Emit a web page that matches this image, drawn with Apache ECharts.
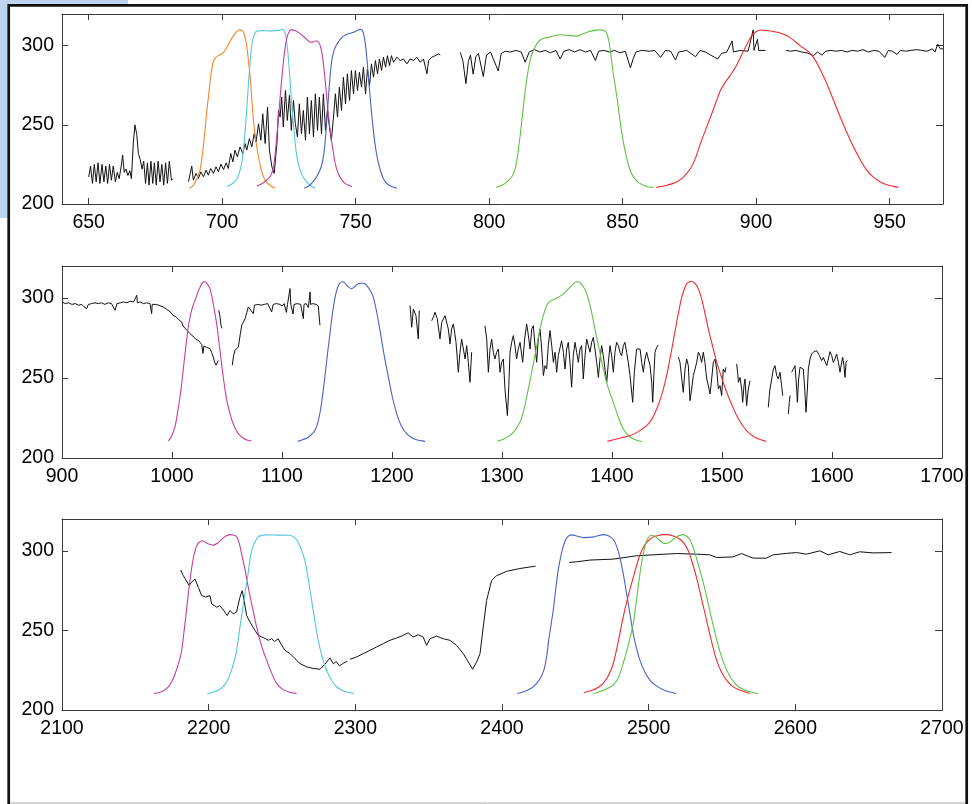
<!DOCTYPE html>
<html>
<head>
<meta charset="utf-8">
<script src="https://cdn.jsdelivr.net/npm/echarts@6/dist/echarts.min.js"></script>
<style>
html,body{margin:0;padding:0;background:#fff;}
#chart{width:972px;height:804px;}
</style>
</head>
<body>
<div id="chart"></div>
<script>
// ---------- tick labels ----------
const p1XTicks = [650, 700, 750, 800, 850, 900, 950];
const p2XTicks = [900, 1000, 1100, 1200, 1300, 1400, 1500, 1600, 1700];
const p3XTicks = [2100, 2200, 2300, 2400, 2500, 2600, 2700];
const yTicks = [200, 250, 300];

// ---------- panel 1 (640-970) ----------
const p1Black1 = [[650,217],[650.7,224],[651.4,213],[652.1,225],[652.8,214],[653.5,226],[654.2,213],[655,225],[655.7,214],[656.4,224],[657.1,213],[657.8,225],[658.5,215],[659.2,224],[660,214],[660.7,220],[661.4,216],[662.2,224],[662.7,231],[663.3,220],[664,222],[664.7,218],[665.4,221],[666,216],[666.7,238],[667.3,250],[668,244],[668.6,232],[669.3,228],[670,222],[670.6,227],[671.3,213],[672,226],[672.6,212],[673.3,227],[674,213],[674.6,226],[675.3,212],[676,227],[676.7,214],[677.4,225],[678.1,212],[678.8,226],[679.5,213],[680.2,227],[681,215],[681.6,216]];
const p1Black2 = [[687.4,214.1],[688.6,223.9],[689.2,215.1],[690.2,219.3],[691.1,216.2],[692.0,220.3],[693.0,217.2],[694.0,221.4],[694.8,218.2],[695.7,222.4],[696.7,219.3],[697.7,223.5],[698.6,220.3],[699.5,225.2],[700.5,221.8],[701.5,226.0],[702.3,222.4],[703.2,231.9],[704.0,226.6],[704.8,234.0],[705.7,229.8],[706.7,236.1],[707.7,231.9],[708.6,238.2],[709.2,234.0],[710.2,241.3],[711.1,236.1],[712.0,244.4],[712.7,239.2],[713.6,250.7],[714.5,240.3],[715.2,257.0],[716.1,238.2],[717.0,261.2],[717.7,234.0],[718.6,223.5],[719.5,219.3],[720.5,238.2],[721.1,259.1],[721.7,254.9],[722.3,267.5],[722.9,248.6],[723.7,271.7],[724.4,252.8],[725.2,268.6],[725.9,246.5],[726.7,265.4],[727.4,250.7],[728.2,242.4],[728.9,263.3],[729.7,244.4],[730.4,259.1],[731.2,240.3],[731.9,267.5],[732.7,244.4],[733.4,265.4],[734.2,242.4],[734.9,269.6],[735.7,246.5],[736.4,267.5],[737.2,244.4],[737.9,269.6],[738.7,246.5],[739.4,259.1],[740.2,248.6],[740.9,240.3],[741.7,254.9],[742.4,269.6],[743.2,254.9],[743.9,273.8],[744.7,259.1],[745.4,280.1],[746.2,263.3],[746.9,282.2],[747.7,265.4],[748.4,284.3],[749.2,269.6],[749.9,284.3],[750.7,271.7],[751.4,283.2],[752.2,273.8],[752.9,286.4],[753.7,269.6],[754.4,285.3],[755.2,274.8],[755.9,288.5],[756.7,280.1],[757.4,290.6],[758.2,282.2],[758.9,291.6],[759.7,284.3],[760.4,292.7],[761.2,286.4],[761.9,293.7],[762.7,287.4],[763.4,293.7],[764.2,289.5],[765.4,292.7],[766.7,290.6],[767.9,291.6],[769.2,288.5],[770.4,291.6],[771.7,290.6],[772.9,292.7],[774.2,289.5],[775.4,291.6],[776.7,282.2],[777.3,290.6],[778.5,292.7],[779.8,293.7],[781.0,294.8],[781.7,294]];
const p1Black3 = [[789.2,295.8],[790.2,290],[791.3,276],[792.2,290],[793,294],[794,282],[795,293],[796,295],[797.8,280.5],[799,294],[800.5,296],[801.5,292],[803.4,284],[804.5,295],[806,296.5],[808,296],[810,297],[812,296],[813.5,289.5],[815,296],[817,297.5],[819,296],[821,297],[823,295.5],[825,297],[826.6,291.6],[828,296.5],[830,297.5],[832,296],[834,297.5],[836,296],[838,297],[839.8,290.6],[841,296.5],[843,297],[845,296],[847,297],[849,295.5],[851,296.5],[852.9,286],[854,292],[855,296],[857,297],[860,296.5],[862,297],[864.2,292.6],[866,297],[868,296.5],[869.8,291],[871,296],[874,297],[877.3,293],[879,297],[881,296],[883,294],[885.6,291.6],[887,295],[889,296],[891,303],[891.5,296],[894,297],[897,296.5],[898.9,310],[899.2,297],[900.5,304],[901,297],[903.5,297]];
const p1Black4 = [[911.3,297],[913,296.5],[915,297],[917,296],[919,295.5],[921.5,293.7],[923,296],[924.7,294],[926,296.5],[928,297],[930,296.5],[932,297],[934,296],[936,297],[938,296.5],[940,297.5],[942,296],[944,297],[946,296.5],[948.2,292.6],[949.5,297],[951,296.5],[952.8,294.5],[954,297],[956,296.5],[958,297],[960,297.5],[962,297],[964,296.5],[966,298],[967,296],[968,301],[969,298],[970,298]];
const p1Orange = [[687.7,209.9],[689,211.5],[690.5,216],[691.7,221.4],[692.5,230],[693.3,242],[694.2,258],[695,270],[695.8,282],[696.7,290],[697.6,292.5],[698.6,293.7],[699.6,294.6],[700.5,295.8],[701.8,299],[703,303],[704.3,306.5],[705.5,309],[706.7,310],[707.6,309.4],[708.2,307.4],[708.8,303.5],[709.4,297],[710,288],[710.5,280],[711.1,266],[711.7,252.8],[712.6,240],[713.6,229.7],[714.5,222.5],[715.5,217],[716.5,214],[717.8,212],[719.8,209.9]];
const p1Cyan = [[701.7,211],[703.5,212.5],[705.5,216],[706.8,222],[707.6,229],[708.3,240],[709,255],[709.6,270],[710.2,284],[710.8,296],[711.5,304],[712.3,308],[713.2,309.3],[715,309.5],[717.5,309.3],[720,309.5],[721.7,309.8],[722.5,310.3],[723.2,309.4],[723.8,306],[724.4,299],[725,288],[725.6,274],[726.2,260],[726.8,248],[727.5,236],[728.3,227],[729.2,221.4],[730.4,216.8],[731.7,214],[733.2,211.5],[734.8,209.9]];
const p1Magenta = [[713,211.3],[715,213],[717.3,216],[718.5,219],[719.4,225],[720.1,236],[720.8,249],[721.5,263],[722.2,277],[723,290.6],[723.7,300],[724.4,306],[725.2,309.3],[726,310],[727.5,309.4],[729.2,307.6],[731,305],[733,302.2],[734.2,302.4],[735.2,303.1],[736.2,302],[736.9,299],[737.5,294],[738.1,286],[738.7,276],[739.3,265],[740,253],[740.7,243],[741.5,234],[742.3,226],[743.3,220],[744.5,216],[746,213],[748.6,211]];
const p1Blue = [[730.7,209.9],[732.5,211.5],[734.2,214.5],[735.8,218.5],[737.2,224],[738.1,232],[738.8,244],[739.4,258],[740,272],[740.6,284],[741.2,292],[742,297.5],[743,301],[744.2,304],[745.4,306],[747.3,307.5],[749.2,308.5],[750.6,309.6],[751.7,310.3],[752.5,309.5],[753.1,306.5],[753.7,300],[754.3,290],[754.9,278],[755.5,266],[756.1,255],[756.8,244],[757.5,235],[758.3,227.5],[759.3,221],[760.4,216],[761.8,212.8],[763.5,211],[765.5,209.9]];
const p1Green = [[802.7,210.5],[805,212],[807,214.5],[808.5,217.2],[809.7,222],[810.7,231],[811.7,244.5],[812.6,258],[813.4,270],[814.2,280],[815,288],[815.8,293.5],[816.6,297],[817.8,301],[819.2,303.6],[821,304.8],[823,305.6],[826.6,306.9],[829.5,306.5],[832.9,306],[834.8,307.2],[836.6,308.5],[839,309.5],[841.6,310],[843,309.6],[843.9,308.4],[844.7,304],[845.4,297],[846.1,287],[846.9,278],[847.9,267],[849,253],[850.4,238],[851.8,227],[853,220.5],[854.1,217],[856,213.5],[859.1,211],[861.5,210.5]];
const p1Red = [[862.6,210.5],[866,211.5],[870.4,214],[873,217.5],[875.4,222.4],[877.3,229],[879.1,238],[881,246.5],[882.9,254.9],[884.8,263.5],[886.6,271.7],[888.5,277],[890.4,281.5],[892.3,286.5],[894.1,292.6],[896,299],[897.9,305.2],[899.8,308.6],[901.6,309.9],[904,309.6],[906.6,309],[909,308],[911.6,306.3],[914,303.5],[916.5,300],[919,297],[921.5,292.6],[924,285],[926.5,275.9],[929,265.5],[931.5,254.9],[934,245],[936.5,236],[939,228],[941.4,221.4],[943.9,217],[946.4,214],[949.5,211.8],[953.3,210.5]];

// ---------- panel 2 (900-1700) ----------
const p2Black1 = [[900,297.5],[903,296.5],[906,297],[909,296],[912,296.5],[915,295.5],[918,296],[920,294.5],[922.4,293.4],[924,296],[927,296.5],[930,297],[933,296.5],[936,297],[939,296],[942,297],[945,296.5],[948.2,292.3],[950,296.5],[953,297],[956,297.5],[959,297],[962,298],[965,297.5],[968,301.7],[968.5,297],[971,297.5],[974,296.5],[977,297],[980,296.5],[981.5,290.2],[982,296],[985,296],[988,295.5],[992,294.4],[995,293],[998,291.5],[1001,289.2],[1004,288],[1006,286.5],[1008.8,285],[1010,282.5],[1011.8,281.5],[1014,279.5],[1016,278],[1018,276.7],[1020,275.5],[1022,274],[1024,273.5],[1025.5,272.5],[1027,271],[1028.2,265.4],[1029,270],[1030,269.4],[1032,269],[1034.5,268.4],[1036,266],[1037.5,263.1],[1039,259.5],[1040,258],[1041,258.5],[1042.1,261]];
const p2Black2 = [[1042.5,292.3],[1043.5,289],[1044.5,283],[1045.5,281]];
const p2Black3 = [[1054.8,258],[1056,264],[1057.3,267.3],[1058.5,268],[1060.3,269.4],[1062,277],[1063.4,283],[1065,285],[1066.4,287.1],[1068,291],[1069.4,294.4],[1071,295],[1073.9,290.2],[1075,295.5],[1078,296],[1081,295.5],[1084,296],[1087,296.5],[1090.6,291.3],[1092,296],[1095,296.5],[1098,296],[1100,295],[1102,296.5],[1104,291],[1105,296],[1107.3,305.9],[1108,296],[1110,290],[1111,296],[1114,296.5],[1117,296],[1119.4,287.1],[1120,296],[1122,296.5],[1124,294],[1125.5,303.8],[1126,296],[1128,296.5],[1131,296],[1133,295],[1134.5,283]];
const p2Black4 = [[1216.4,295.2],[1217.9,281.7],[1219.4,293.1],[1221.8,289.0],[1223.9,274.4],[1224.8,292.1]];
const p2Black5 = [[1236.1,285.8],[1238.2,289.0],[1239.1,291.1],[1241.2,286.9],[1243.6,274.4],[1245.2,284.8],[1246.7,286.9],[1248.2,289.0],[1249.7,287.9],[1251.2,280.6],[1252.7,271.3],[1254.2,280.6],[1255.8,283.8],[1258.2,272.3],[1260.3,253.6],[1261.8,266.1],[1263.3,274.4],[1264.9,268.1],[1266.4,261.9],[1267.9,270.2],[1269.4,259.8],[1270.9,247.3],[1272.4,266.1]];
const p2Black6 = [[1284.5,282.7],[1286.1,274.4],[1287.6,253.6],[1289.1,268.1],[1290.6,274.4],[1292.1,266.1],[1293.6,261.9],[1295.1,266.1],[1296.7,268.1],[1298.2,253.6],[1299.7,259.8],[1301.2,261.9],[1302.7,243.1],[1304.9,226.5],[1306.1,243.1],[1307.3,266.1],[1308.8,272.3],[1310.3,276.5],[1311.8,270.2],[1313.3,261.9],[1314.8,268.1],[1316.4,272.3],[1318.8,259.8],[1320.6,274.4],[1322.4,283.8],[1324.0,276.5],[1325.5,268.1],[1327.0,280.6],[1328.5,282.7],[1330.0,270.2],[1331.5,259.8],[1333.0,274.4],[1334.6,280.6],[1336.1,268.1],[1337.6,251.5],[1339.1,257.7],[1340.6,255.6],[1342.1,270.2],[1343.6,279.6],[1345.2,270.2],[1346.7,259.8],[1348.2,266.1],[1349.7,253.6],[1351.2,264.0],[1354.2,273.3],[1355.8,266.1],[1357.3,255.6],[1358.8,268.1],[1360.3,272.3],[1361.8,259.8],[1363.3,244.2],[1364.8,264.0],[1366.4,272.3],[1367.9,266.1],[1369.4,259.8],[1370.9,268.1],[1372.4,270.2],[1373.9,249.4],[1375.5,264.0],[1377.0,274.4],[1378.5,270.2],[1380.0,266.1],[1381.5,272.3],[1383.0,275.4],[1384.5,268.1],[1386.1,259.8],[1387.6,250.4],[1389.1,261.9],[1390.6,270.2],[1392.1,264.0],[1393.6,255.6],[1395.2,247.3],[1396.7,259.8],[1398.2,270.2],[1399.7,264.0],[1401.2,253.6],[1402.7,266.1],[1404.2,272.3],[1405.8,270.2],[1407.3,266.1],[1408.8,264.0],[1410.3,270.2],[1411.8,272.3],[1413.3,266.1],[1414.8,259.8],[1416.4,251.5],[1418.8,234.8],[1420.3,253.6],[1422.4,268.1],[1424.0,269.2],[1425.5,268.1],[1427.0,259.8],[1428.5,253.6],[1430.0,261.9],[1431.5,266.1],[1433.0,261.9],[1434.6,257.7],[1436.1,247.3],[1437.0,234.8],[1438.2,253.6],[1439.1,266.1],[1440.6,269.2],[1442.1,270.6]];
const p2Black7 = [[1460.3,263.0],[1461.8,259.8],[1463.3,259.8],[1464.8,241.0],[1466.4,255.6],[1467.9,261.9],[1469.4,257.7],[1470.9,235.8],[1472.4,243.1],[1473.9,251.5],[1475.5,255.6],[1477.0,259.8],[1478.5,266.1],[1480.0,264.0],[1481.5,259.8],[1483.0,266.1],[1484.5,259.8],[1486.1,249.4],[1487.6,245.2],[1489.1,240.0],[1490.6,249.4],[1492.1,259.8],[1493.6,261.9],[1495.2,255.6],[1496.7,243.1],[1498.2,245.2],[1499.7,239.0],[1501.2,255.6],[1502.7,253.6],[1503.6,256.7]];
const p2Black8 = [[1513.3,258.8],[1514.2,253.6],[1514.9,247.3],[1516.4,250.4],[1517.0,251.5],[1517.9,243.1],[1518.8,234.8],[1520.0,245.2],[1520.9,249.4],[1522.4,232.7],[1523.9,243.1],[1525.5,248.3]];
const p2Black9 = [[1542.1,231.7],[1543.0,239.0],[1543.6,243.1],[1545.2,249.4],[1546.7,255.6],[1548.2,257.7],[1549.7,251.5],[1551.2,249.4],[1552.7,253.6],[1554.2,245.2],[1555.2,239.0]];
const p2Black10 = [[1560.3,227.5],[1561.2,234.8],[1561.8,239.0]];
const p2Black11 = [[1563.3,253.6],[1564.9,255.6],[1566.4,257.7],[1567.9,243.1],[1568.5,234.8],[1569.7,249.4],[1570.9,256.7],[1572.4,257.7],[1573.9,255.6],[1575.2,243.1],[1576.4,228.6],[1577.6,243.1],[1578.5,255.6],[1580.0,261.9],[1581.5,265.0],[1583.6,266.5],[1586.1,267.1],[1588.5,264.0],[1590.6,260.9],[1592.1,262.9],[1593.6,264.0],[1595.2,257.7],[1596.7,261.9],[1598.2,266.5],[1599.7,264.0],[1601.2,259.8],[1602.7,261.9],[1604.2,265.0],[1605.8,259.8],[1607.3,253.6],[1608.8,259.8],[1609.7,262.9],[1610.9,257.7],[1611.8,250.4],[1612.8,259.8],[1613.9,260.9]];
const p2Magenta = [[996.6,210.6],[999.5,213.5],[1002.7,219.4],[1005,228],[1007,237],[1008.8,246.5],[1011,260],[1013,272],[1014.8,281.9],[1017,290],[1019,295],[1020.9,298.6],[1023,302.5],[1025,306],[1027,309],[1028.5,310],[1030,310.2],[1032,308.8],[1034.5,305.9],[1036.5,300],[1038.5,292.5],[1040.6,284],[1042.6,273],[1044.6,261.5],[1046.6,250.6],[1048.6,241],[1050.6,233.5],[1052.7,227.7],[1055,222.5],[1057.5,218.5],[1060.3,215.2],[1064,212.8],[1068,211.3],[1072.4,210.6]];
const p2Blue = [[1114.3,210.4],[1119,211.5],[1124,213],[1128,215.5],[1130,217.3],[1132.5,222],[1135,230],[1137.5,242.3],[1139.5,254],[1141.5,266],[1143.6,277.8],[1145.6,289],[1147.6,298],[1149.7,304.8],[1151.8,308.5],[1154.2,310.2],[1156.5,309.8],[1158.8,308],[1161,306.5],[1163.4,305.9],[1165.7,306.8],[1168,308.2],[1170.2,309],[1172.5,309.4],[1175,309],[1177,307.7],[1180,305],[1183,300.6],[1186,291.5],[1189.1,279.8],[1192.8,264.5],[1196.7,250.6],[1200.5,237.5],[1204.3,227.7],[1208.5,220],[1213.3,215.2],[1218,212.6],[1223,211.2],[1230,210.4]];
const p2Green = [[1295.7,210.4],[1302,212],[1307,214],[1310.3,216],[1314,219.5],[1317,223.5],[1319.4,228.6],[1323,240],[1327,253.6],[1331,268],[1334.5,280.6],[1337.5,289],[1340.6,295.2],[1343,297.6],[1345.2,298.6],[1350,300],[1354.3,301.8],[1358,304],[1361.8,306.7],[1365,309],[1367.9,310.2],[1370.5,309.8],[1373,308],[1376,304.5],[1378.5,299.4],[1381.5,291],[1384.5,280.6],[1388.5,267.5],[1392.1,255.6],[1396.5,244],[1401.2,234.8],[1405.8,225.5],[1410.3,218.1],[1415,214],[1419.4,211.9],[1427,210.2]];
const p2Red = [[1395.8,210.4],[1405,212],[1416.4,214],[1424,216.5],[1431.5,220.2],[1436.5,224.5],[1440.6,230.6],[1443.8,236.5],[1446.7,243.1],[1449.8,252],[1452.7,261.9],[1455.8,273.5],[1458.8,284.8],[1461.2,293.5],[1463.4,300.4],[1465.7,305.5],[1467.9,308.8],[1470.2,310.2],[1472.5,310.3],[1475,309.4],[1477,307.7],[1479.3,304.3],[1481.5,299.4],[1484.5,290.5],[1487.6,280.6],[1491.4,270],[1495.2,259.8],[1499.8,250],[1504.3,241.1],[1508.8,233.5],[1513.3,226.5],[1518.5,220.5],[1523.9,216],[1531,212.5],[1540,210.4]];

// ---------- panel 3 (2100-2700) ----------
const p3Black1 = [[2180.9,287.9],[2182.7,284.4],[2184,283.5],[2186.8,278.1],[2188,280],[2189,279],[2190.7,282.3],[2193,277],[2195.2,271.9],[2198,271],[2200.9,271.9],[2202,266.7],[2205.5,264.6],[2207.5,265.5],[2209.5,263.5],[2212.7,259.4],[2214.5,262.5],[2216.8,260.4],[2219,261.5],[2221.3,270.8],[2222.9,275],[2224.3,268],[2225.9,259.4],[2228.2,255.2],[2231.6,250],[2233.8,246.9],[2236,246],[2238.4,245],[2240.6,243.8],[2242.9,244.8],[2245,243],[2247.4,244.8],[2249.6,241],[2252,237.5],[2255.4,235.5],[2258.8,232.3],[2262.2,229.2],[2266.8,227.1],[2271.3,226.1],[2275.9,225.6],[2277,225],[2279,228.5],[2282.7,232.7],[2285,229],[2287,230.5],[2289.1,227.7],[2292,229.5],[2294.5,230.6]];
const p3Black2 = [[2296.3,231.9],[2300.8,233.3],[2305.4,235.4],[2310,237.5],[2314.5,239.6],[2319,241.7],[2323.6,243.8],[2328.1,245.2],[2332.6,246.9],[2336,248.5],[2339.4,245.8],[2342.9,247.3],[2346.3,245.8],[2348.6,240.6],[2350.9,244.8],[2355.4,246.4],[2359.9,244.8],[2364.5,243.8],[2369,240.6],[2373.6,235.4],[2377,230.2],[2380,225.6],[2382.7,230.2],[2385,235.4],[2387.2,252],[2389.5,268.8],[2392.9,281.3],[2396.3,284.4],[2403.1,287.1],[2412.2,288.9],[2422.9,290.4]];
const p3Black3 = [[2445.8,292.7],[2450.7,293.1],[2460,294.2],[2475.9,294.8],[2491.8,296.9],[2503.1,297.5],[2519,298.3],[2532.6,297.9],[2541.7,297.5],[2546.3,295.8],[2557.6,296.2],[2563.3,298.3],[2571.2,295.4],[2580.3,295.4],[2584.9,297.5],[2594,298.4],[2600.8,298.9],[2607.6,297.9],[2616.7,300],[2622.4,297.5],[2630.3,299.6],[2637.1,297.5],[2643.9,299.4],[2653,298.7],[2665.6,298.9]];
const p3Magenta = [[2162.7,210.4],[2168,211.5],[2172,214],[2174.8,217.7],[2177,222.5],[2179.5,229.5],[2181.6,237.5],[2183.3,250],[2184.8,262],[2186.1,272.9],[2187.6,284],[2189.1,293],[2190.7,300],[2192.6,304.5],[2195.6,306.3],[2199.5,304.5],[2203.1,303.6],[2206,304.8],[2208.7,307],[2211.5,309.2],[2214.5,310.2],[2217,310],[2219,309],[2220.8,305],[2222.5,297.9],[2224.8,288],[2227,277.1],[2229.8,264.5],[2232.7,252],[2236,240.5],[2239.5,231.3],[2243,223],[2246.4,216.7],[2250,213.3],[2255,211.2],[2260,210.4]];
const p3Cyan = [[2199.1,210.4],[2204,211.5],[2208.5,213.5],[2212.3,217.7],[2215,223.5],[2217.2,230],[2219.1,237.5],[2221,250],[2222.9,262],[2224.7,272.9],[2226.6,284],[2228,293.5],[2229.3,300],[2231.5,305.5],[2233.5,308.5],[2235,309.4],[2239.5,310],[2247,309.9],[2255.4,309.8],[2258.5,308.5],[2261.1,305.2],[2263.5,300],[2265.6,293.8],[2268,282],[2270.2,268.8],[2272.5,255.5],[2274.7,243.8],[2277.5,233],[2280.4,225],[2283.5,219],[2287.2,214.6],[2292.5,211.8],[2299,210.4]];
const p3Blue = [[2410.4,210.4],[2416,212],[2420.5,214],[2423.6,216.7],[2426.5,220.5],[2428.8,226],[2430.4,233.3],[2432,245],[2433.5,254],[2434.9,262.5],[2436.5,275],[2438,286],[2439.5,293.8],[2441.5,302],[2443.6,307.3],[2445.5,309.4],[2447.4,310],[2451,309.3],[2455.3,308.3],[2462,308.6],[2466,309.6],[2469,310.2],[2472.5,309.5],[2475.9,307.3],[2478.3,302.5],[2480.4,295.8],[2482.8,285],[2485,272.9],[2487.3,260],[2489.5,247.9],[2491.8,238.5],[2494,231.3],[2497.3,224],[2500.8,218.8],[2505.5,215],[2511,212.3],[2518.6,210.4]];
const p3Red = [[2455.8,210.8],[2462,212.5],[2466,214.5],[2469,216.7],[2472.5,221.5],[2475.9,229.2],[2479.3,243],[2482.6,258.3],[2486,271.5],[2489.5,283.3],[2492.3,292.5],[2495.2,300],[2498,304.5],[2500.8,307.3],[2503.5,308.8],[2506.5,309.6],[2509.5,310.2],[2512.2,310.2],[2516.8,309.3],[2521.3,307.3],[2524.3,304.5],[2527,300],[2529.8,292.5],[2532.6,283.3],[2536,270],[2539.5,256.3],[2543,242.5],[2546.3,231.3],[2549.5,224],[2553.1,218.8],[2557,215],[2562,212.5],[2569,210.4]];
const p3Green = [[2462.6,210.4],[2469,212.3],[2473,214],[2475.9,215.6],[2479.5,220.5],[2482.6,229.2],[2486,240.5],[2489.5,254.2],[2491.8,270],[2494,285.4],[2496.3,298],[2498.6,306.3],[2501.3,309.8],[2504,309.3],[2506.5,307.5],[2509.2,305.3],[2512.2,304.6],[2515,305.8],[2517.9,308],[2520.8,309.6],[2523.6,310.2],[2526,309.2],[2527.8,307.5],[2529.8,303.5],[2531.8,297.9],[2535,287.5],[2538.6,275],[2542,261],[2545.4,247.9],[2548.8,236],[2552.2,227.1],[2556.5,219.5],[2561.3,214.6],[2567,212],[2574.5,210.4]];

// ---------- build ----------
const FONT = '"Liberation Sans", Arial, Helvetica, sans-serif';
const AX = '#3a3a3a';
const grids = [
  {left: 62, top: 14, width: 881, height: 190},
  {left: 62, top: 266, width: 880, height: 192},
  {left: 62, top: 519, width: 880, height: 191}
];
const ranges = [[640, 970, p1XTicks], [900, 1700, p2XTicks], [2100, 2700, p3XTicks]];
const plain = v => String(v);
const xAxes = [], yAxes = [];
ranges.forEach((r, i) => {
  const base = {type: 'value', gridIndex: i, min: r[0], max: r[1], splitLine: {show: false},
    axisLine: {show: true, onZero: false, lineStyle: {color: AX, width: 1}}};
  xAxes.push(Object.assign({}, base, {position: 'bottom',
    axisTick: {show: true, inside: true, length: 6, customValues: r[2], lineStyle: {color: AX}},
    axisLabel: {show: true, customValues: r[2], formatter: plain, margin: 9, fontSize: 19.5, color: '#000', fontFamily: FONT}}));
  xAxes.push(Object.assign({}, base, {position: 'top',
    axisTick: {show: true, inside: true, length: 6, customValues: r[2], lineStyle: {color: AX}},
    axisLabel: {show: false}}));
  const ybase = {type: 'value', gridIndex: i, min: 200, max: 320, splitLine: {show: false},
    axisLine: {show: true, onZero: false, lineStyle: {color: AX, width: 1}}};
  yAxes.push(Object.assign({}, ybase, {position: 'left',
    axisTick: {show: true, inside: true, length: 6, customValues: yTicks, lineStyle: {color: AX}},
    axisLabel: {show: true, customValues: yTicks, formatter: plain, margin: 8, fontSize: 19.5, color: '#000', fontFamily: FONT}}));
  yAxes.push(Object.assign({}, ybase, {position: 'right',
    axisTick: {show: true, inside: true, length: 7, customValues: yTicks, lineStyle: {color: AX}},
    axisLabel: {show: false}}));
});

const series = [];
function addLine(data, color, panel, smooth) {
  series.push({
    type: 'line', data: data, xAxisIndex: panel * 2, yAxisIndex: panel * 2,
    showSymbol: false, symbol: 'none', silent: true, animation: false,
    smooth: smooth ? 0.2 : false,
    lineStyle: {color: color, width: smooth ? 1.1 : 1}
  });
}
const BLACK = '#111';
const C = {orange: '#f5842a', cyan: '#52c8de', magenta: '#c43e9c', blue: '#4862c4', green: '#5ec344', red: '#f42a2e'};

[p1Black1, p1Black2, p1Black3, p1Black4].forEach(d => addLine(d, BLACK, 0, false));
addLine(p1Orange, C.orange, 0, true);
addLine(p1Cyan, C.cyan, 0, true);
addLine(p1Magenta, C.magenta, 0, true);
addLine(p1Blue, C.blue, 0, true);
addLine(p1Green, C.green, 0, true);
addLine(p1Red, C.red, 0, true);

[p2Black1, p2Black2, p2Black3, p2Black4, p2Black5, p2Black6, p2Black7, p2Black8, p2Black9, p2Black10, p2Black11].forEach(d => addLine(d, BLACK, 1, false));
addLine(p2Magenta, C.magenta, 1, true);
addLine(p2Blue, C.blue, 1, true);
addLine(p2Green, C.green, 1, true);
addLine(p2Red, C.red, 1, true);

[p3Black1, p3Black2, p3Black3].forEach(d => addLine(d, BLACK, 2, false));
addLine(p3Magenta, C.magenta, 2, true);
addLine(p3Cyan, C.cyan, 2, true);
addLine(p3Blue, C.blue, 2, true);
addLine(p3Red, C.red, 2, true);
addLine(p3Green, C.green, 2, true);

const chart = echarts.init(document.getElementById('chart'), null, {renderer: 'canvas'});
chart.setOption({
  backgroundColor: '#fff',
  animation: false,
  grid: grids,
  xAxis: xAxes,
  yAxis: yAxes,
  series: series,
  graphic: [
    {type: 'rect', shape: {x: 0, y: 0, width: 7.5, height: 218}, style: {fill: '#bcd5ee'}, silent: true},
    {type: 'rect', shape: {x: 0, y: 0, width: 128, height: 4}, style: {fill: '#bcd5ee'}, silent: true},
    {type: 'polyline', shape: {points: [[8.7, 804], [8.7, 5.3], [966.7, 5.3], [966.7, 804]]}, style: {stroke: '#111', lineWidth: 2.7, fill: null}, silent: true},
    {type: 'line', shape: {x1: 10, y1: 803, x2: 965, y2: 803}, style: {stroke: '#aaa', lineWidth: 1}, silent: true}
  ]
});
</script>
</body>
</html>
